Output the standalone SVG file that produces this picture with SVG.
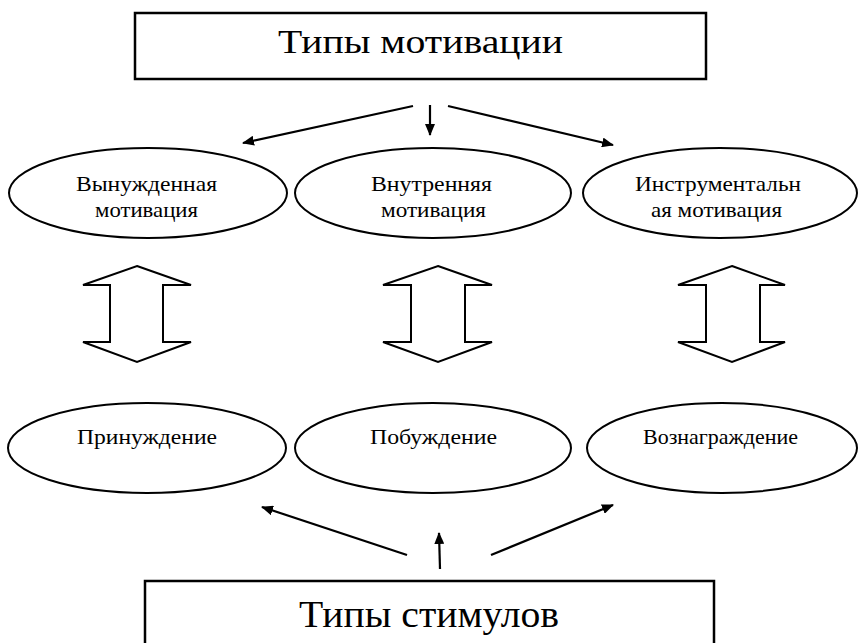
<svg xmlns="http://www.w3.org/2000/svg" width="858" height="643" viewBox="0 0 858 643">
<style>
.box{fill:#fff;stroke:#000;stroke-width:2.5}
.ell{fill:#fff;stroke:#000;stroke-width:2}
.dbl{fill:#fff;stroke:#000;stroke-width:2;stroke-linejoin:miter}
.conn{stroke:#000;stroke-width:2.2;fill:none;marker-end:url(#ah)}
text{font-family:"Liberation Serif","Times New Roman",serif;fill:#000;text-anchor:middle}
.big{font-size:33px}
.big2{font-size:38px}
.sm{font-size:22px}
</style>
<defs>
<marker id="ah" viewBox="0 0 12 10" refX="11" refY="5" markerWidth="12" markerHeight="10" markerUnits="userSpaceOnUse" orient="auto">
<path d="M0,0 L12,5 L0,10 Z" fill="#000"/>
</marker>
</defs>
<rect width="858" height="643" fill="#fff"/>
<g id="top-box">
<rect class="box" x="135" y="13" width="571" height="66"/>
<text class="big" x="420.5" y="53" textLength="285" lengthAdjust="spacingAndGlyphs">Типы мотивации</text>
</g>
<g id="bottom-box">
<rect class="box" x="145" y="581" width="569" height="80"/>
<text class="big2" x="429" y="627" textLength="260" lengthAdjust="spacingAndGlyphs">Типы стимулов</text>
</g>
<g id="e-forced">
<ellipse class="ell" cx="148" cy="193" rx="139" ry="45"/>
<text class="sm" x="146.5" y="191" textLength="141" lengthAdjust="spacingAndGlyphs">Вынужденная</text>
<text class="sm" x="146.5" y="217" textLength="103" lengthAdjust="spacingAndGlyphs">мотивация</text>
</g>
<g id="e-internal">
<ellipse class="ell" cx="433" cy="193" rx="138" ry="45"/>
<text class="sm" x="431.5" y="191" textLength="121" lengthAdjust="spacingAndGlyphs">Внутренняя</text>
<text class="sm" x="433.5" y="217" textLength="105" lengthAdjust="spacingAndGlyphs">мотивация</text>
</g>
<g id="e-instrumental">
<ellipse class="ell" cx="720" cy="193" rx="137" ry="45"/>
<text class="sm" x="718" y="191" textLength="166" lengthAdjust="spacingAndGlyphs">Инструментальн</text>
<text class="sm" x="716.5" y="217" textLength="131" lengthAdjust="spacingAndGlyphs">ая мотивация</text>
</g>
<g id="e-coercion">
<ellipse class="ell" cx="147" cy="448" rx="139" ry="45"/>
<text class="sm" x="147" y="444" textLength="140" lengthAdjust="spacingAndGlyphs">Принуждение</text>
</g>
<g id="e-motivation">
<ellipse class="ell" cx="433" cy="448" rx="138" ry="45"/>
<text class="sm" x="433.5" y="444" textLength="127" lengthAdjust="spacingAndGlyphs">Побуждение</text>
</g>
<g id="e-reward">
<ellipse class="ell" cx="722" cy="448" rx="135" ry="45"/>
<text class="sm" x="720.5" y="444" textLength="155" lengthAdjust="spacingAndGlyphs">Вознаграждение</text>
</g>
<g id="dbl-left">
<path class="dbl" d="M137,266 L191,285 L163,285 L163,342 L191,342 L137,362 L83,342 L110,342 L110,285 L83,285 Z"/>
</g>
<g id="dbl-mid">
<path class="dbl" d="M438,266 L492,285 L465,285 L465,342 L492,342 L438,362 L383,342 L411,342 L411,285 L383,285 Z"/>
</g>
<g id="dbl-right">
<path class="dbl" d="M732,266 L785,285 L760,285 L760,342 L785,342 L732,362 L678,342 L706,342 L706,285 L678,285 Z"/>
</g>
<g id="connectors">
<line class="conn" x1="413" y1="106" x2="243" y2="143"/>
<line class="conn" x1="430" y1="105" x2="430" y2="135"/>
<line class="conn" x1="448" y1="106" x2="613" y2="145"/>
<line class="conn" x1="407" y1="555" x2="262" y2="507"/>
<line class="conn" x1="440" y1="569" x2="439" y2="533"/>
<line class="conn" x1="491" y1="555" x2="613" y2="505"/>
</g>
</svg>
